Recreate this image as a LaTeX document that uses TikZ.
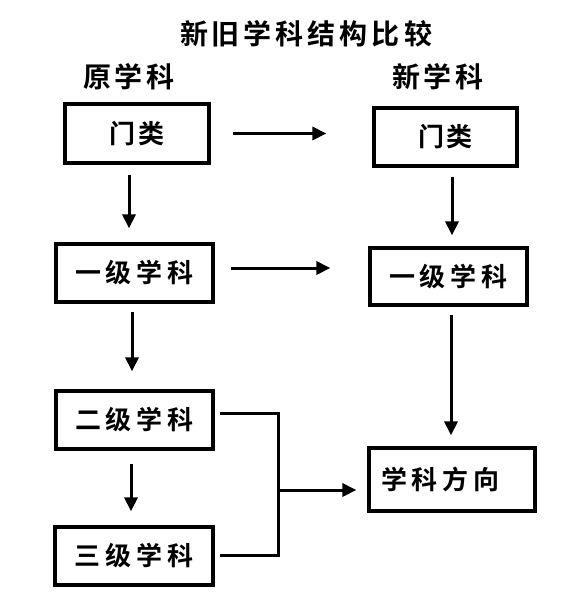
\documentclass[tikz,border=0pt]{standalone}
\usepackage{fontspec}
\setmainfont{Noto Sans CJK SC}[BoldFont={Noto Sans CJK SC Bold}]
\usetikzlibrary{arrows.meta}
\newcommand\ck{\kern5pt}
\newcommand\ckb{\kern4pt}
\tikzset{
  box/.style={draw, line width=3.2pt, inner sep=0pt, font=\fontsize{26pt}{28pt}\selectfont\bfseries},
  arr/.style={line width=3pt, -{Triangle[length=14pt,width=13pt]}},
  seg/.style={line width=3pt},
  head/.style={font=\fontsize{28pt}{30pt}\selectfont\bfseries}
}
\begin{document}
\begin{tikzpicture}[x=1pt,y=-1pt]
\useasboundingbox (0,0) rectangle (585,603);
\fill[white] (0,0) rectangle (585,603);
\node[head] (title) at (306,34) {新\kern4pt 旧\kern4pt 学\kern4pt 科\kern4pt 结\kern4pt 构\kern4pt 比\kern4pt 较};
\node[head] (hL) at (129,77) {原\ckb 学\ckb 科};
\node[head] (hR) at (438,77) {新\ckb 学\ckb 科};

\node[box, minimum width=144pt, minimum height=59pt] (mlL) at (137,133.5) {门\kern3pt 类};
\node[box, minimum width=143pt, minimum height=58pt] (mlR) at (445.5,137) {门\kern3pt 类};
\node[box, minimum width=157pt, minimum height=58pt] (yjL) at (134.5,273) {一\ck 级\ck 学\ck 科};
\node[box, minimum width=157pt, minimum height=57pt] (yjR) at (448.5,276.5) {一\ck 级\ck 学\ck 科};
\node[box, minimum width=157pt, minimum height=58pt] (ejL) at (134.5,420) {二\ck 级\ck 学\ck 科};
\node[box, minimum width=158pt, minimum height=58pt] (sjL) at (134,556) {三\ck 级\ck 学\ck 科};
\node[box, minimum width=166pt, minimum height=63pt, text width=166pt, align=left] (fx) at (452,479.5) {\hspace*{12pt}学\ck 科\ck 方\ck 向};

% horizontal arrows
\draw[arr, shorten <=22pt, shorten >=46pt] (mlL.east) -- (mlL.east -| mlR.west);
\draw[arr, shorten <=16pt, shorten >=38pt] ([yshift=5pt]yjL.east) -- ([yshift=5pt]yjL.east -| yjR.west);

% vertical arrows left
\draw[arr, shorten <=10pt, shorten >=14pt] ([xshift=-8pt]mlL.south) -- ([xshift=-5.5pt]yjL.north);
\draw[arr, shorten <=8pt, shorten >=18pt] ([xshift=-2.5pt]yjL.south) -- ([xshift=-2.5pt]ejL.north);
\draw[arr, shorten <=13pt, shorten >=14pt] ([xshift=-3.5pt]ejL.south) -- ([xshift=-3pt]sjL.north);

% vertical arrows right
\draw[arr, shorten <=9pt, shorten >=11pt] ([xshift=6.5pt]mlR.south) -- ([xshift=3.5pt]yjR.north);
\draw[arr, shorten <=8pt, shorten >=11pt] ([xshift=2.5pt]yjR.south) -- ([xshift=-1pt]fx.north);

% bracket
\coordinate (b1) at (278,413);
\coordinate (b2) at (278,555);
\coordinate (jn) at (278,490);
\draw[seg, line join=miter] ([xshift=5pt,yshift=7pt]ejL.east) -- (b1) -- (b2) -- ([xshift=5pt,yshift=1pt]sjL.east);
\draw[arr, shorten <=2pt, shorten >=11pt] (jn) -- (jn -| fx.west);
\end{tikzpicture}
\end{document}
